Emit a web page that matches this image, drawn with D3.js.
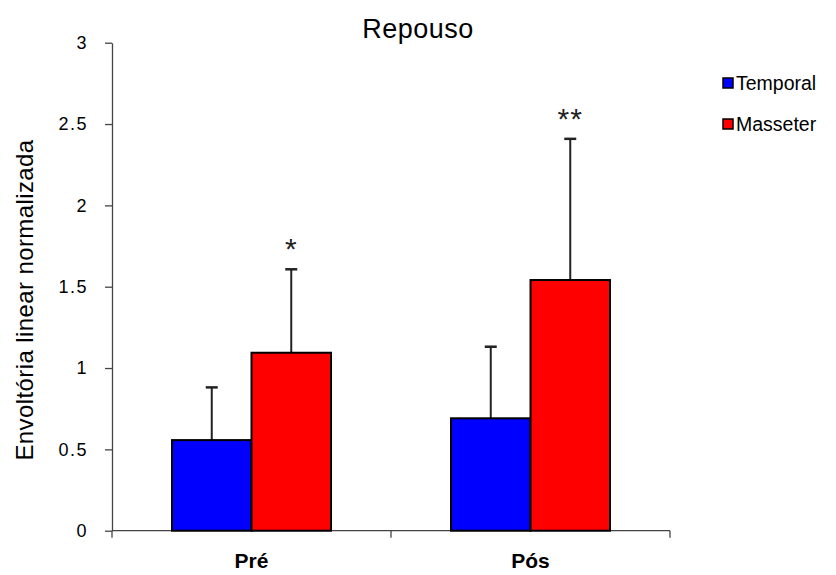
<!DOCTYPE html>
<html>
<head>
<meta charset="utf-8">
<script src="https://cdn.jsdelivr.net/npm/d3@7"></script>
<style>
  body { margin: 0; background: #fff; }
  text { font-family: "Liberation Sans", Arial, sans-serif; }
</style>
</head>
<body>
<div id="main"></div>
<script>
var groups = ["Pré", "Pós"]
var series = ["Temporal", "Masseter"]
var colors = ["#0000ff", "#ff0000"]
var temporalMean = [0.557, 0.691]
var temporalErr = [0.324, 0.440]
var masseterMean = [1.094, 1.541]
var masseterErr = [0.513, 0.868]
var marks = ["*", "**"]
var yTicks = [0, 0.5, 1, 1.5, 2, 2.5, 3]

var W = 836, H = 575
var margin = { top: 42.7, left: 112, right: 166, bottom: 44.3 }
var w = W - margin.left - margin.right,
	h = H - margin.top - margin.bottom

var svg = d3.select("#main").append("svg")
	.attr("width", W)
	.attr("height", H)

var g = svg.append("g")
	.attr("transform", "translate(" + margin.left + "," + margin.top + ")")

var x = d3.scaleBand().domain(groups).range([0, 558])
var xs = d3.scaleBand().domain(series).range([0, 159])
var y = d3.scaleLinear().domain([0, 3]).range([h, 0])

// y axis
var yAxis = d3.axisLeft(y).tickValues(yTicks).tickSize(7).tickSizeOuter(0)
	.tickFormat(function(d) { return d })
var ya = g.append("g").call(yAxis)
ya.select(".domain").attr("stroke", "#444").attr("stroke-width", 1.3)
ya.selectAll(".tick line").attr("stroke", "#444").attr("stroke-width", 1.3)
ya.selectAll(".tick text")
	.attr("font-size", 18)
	.attr("font-family", "DejaVu Sans")
	.attr("letter-spacing", 1.5)
	.attr("fill", "#000")
	.attr("x", -24)

// x axis
g.append("line")
	.attr("x1", 0).attr("x2", 558)
	.attr("y1", h).attr("y2", h)
	.attr("stroke", "#444").attr("stroke-width", 1.3)
var xTicks = [0, x.bandwidth(), 2 * x.bandwidth()]
g.selectAll(".xtick").data(xTicks).enter().append("line")
	.attr("x1", function(d) { return d }).attr("x2", function(d) { return d })
	.attr("y1", h).attr("y2", h + 7)
	.attr("stroke", "#444").attr("stroke-width", 1.3)
g.selectAll(".xlabel").data(groups).enter().append("text")
	.attr("x", function(d) { return x(d) + x.bandwidth() / 2 })
	.attr("y", h + 37)
	.attr("text-anchor", "middle")
	.attr("font-size", 21)
	.attr("font-weight", "bold")
	.text(function(d) { return d })

var data = []
groups.forEach(function(grp, i) {
	data.push({ g: grp, s: "Temporal", v: temporalMean[i], e: temporalErr[i], c: colors[0] })
	data.push({ g: grp, s: "Masseter", v: masseterMean[i], e: masseterErr[i], c: colors[1] })
})
function bx(d) { return x(d.g) + (x.bandwidth() - 159) / 2 + xs(d.s) }

// error bars
g.selectAll(".err").data(data).enter().append("line")
	.attr("x1", function(d) { return bx(d) + xs.bandwidth() / 2 })
	.attr("x2", function(d) { return bx(d) + xs.bandwidth() / 2 })
	.attr("y1", function(d) { return y(d.v) })
	.attr("y2", function(d) { return y(d.v + d.e) })
	.attr("stroke", "#222").attr("stroke-width", 2)
g.selectAll(".cap").data(data).enter().append("line")
	.attr("x1", function(d) { return bx(d) + xs.bandwidth() / 2 - 6 })
	.attr("x2", function(d) { return bx(d) + xs.bandwidth() / 2 + 6 })
	.attr("y1", function(d) { return y(d.v + d.e) })
	.attr("y2", function(d) { return y(d.v + d.e) })
	.attr("stroke", "#222").attr("stroke-width", 2.5)

// bars
g.selectAll(".bar").data(data).enter().append("rect")
	.attr("x", function(d) { return bx(d) })
	.attr("y", function(d) { return y(d.v) })
	.attr("width", xs.bandwidth())
	.attr("height", function(d) { return h - y(d.v) })
	.attr("fill", function(d) { return d.c })
	.attr("stroke", "#000").attr("stroke-width", 2)

// significance marks
var mData = data.filter(function(d) { return d.s === "Masseter" })
g.selectAll(".mark").data(mData).enter().append("text")
	.attr("x", function(d) { return bx(d) + xs.bandwidth() / 2 })
	.attr("y", function(d) { return y(d.v + d.e) - 10 })
	.attr("text-anchor", "middle")
	.attr("font-size", 30)
	.attr("letter-spacing", 1)
	.attr("fill", "#222")
	.text(function(d, i) { return marks[i] })

// title
svg.append("text")
	.attr("x", 418).attr("y", 38)
	.attr("text-anchor", "middle")
	.attr("font-size", 27)
	.attr("letter-spacing", 0.5)
	.text("Repouso")

// y title
svg.append("text")
	.attr("transform", "translate(33,300) rotate(-90)")
	.attr("text-anchor", "middle")
	.attr("font-size", 24)
	.attr("letter-spacing", 0.4)
	.text("Envoltória linear normalizada")

// legend
var leg = svg.selectAll(".leg").data(series).enter().append("g")
	.attr("transform", function(d, i) { return "translate(723," + (78 + i * 41) + ")" })
leg.append("rect")
	.attr("width", 10).attr("height", 10)
	.attr("fill", function(d, i) { return colors[i] })
	.attr("stroke", "#000").attr("stroke-width", 1.5)
leg.append("text")
	.attr("x", 13).attr("y", 12)
	.attr("font-size", 19.5)
	.attr("font-family", "DejaVu Sans")
	.text(function(d) { return d })
</script>
</body>
</html>
